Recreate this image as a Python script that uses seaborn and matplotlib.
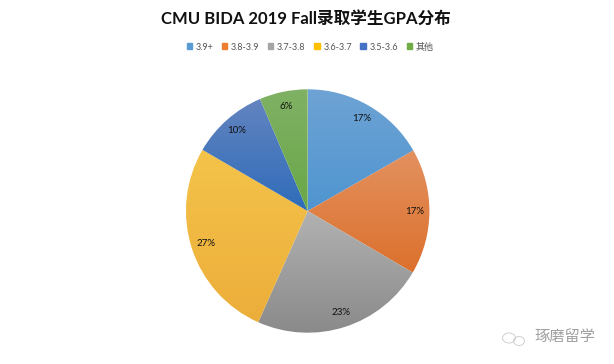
import matplotlib

matplotlib.use("Agg")
import matplotlib.pyplot as plt
import numpy as np
import seaborn as sns
from matplotlib.colors import LinearSegmentedColormap
from matplotlib.patches import Ellipse, Patch

categories = ["3.9+", "3.8-3.9", "3.7-3.8", "3.6-3.7", "3.5-3.6", "其他"]
values = [16.7, 16.7, 23.2, 26.7, 10.2, 6.4]
top_colors = ["#6ea3d4", "#e39160", "#b2b2b2", "#f4c34a", "#6384c0", "#80b164"]
bottom_colors = ["#4f95d0", "#dc702c", "#8a8a8a", "#ecae3a", "#2e6cb9", "#69a748"]
legend_colors = ["#5b9bd5", "#ed7d31", "#a5a5a5", "#ffc000", "#4472c4", "#70ad47"]

sns.set_theme(style="white")
plt.rcParams["font.family"] = ["Lato", "Noto Sans CJK SC"]

fig = plt.figure(figsize=(6.14, 3.64), dpi=100)
ax = fig.add_axes([0, 0, 1, 1])

wedges, _, pct_texts = ax.pie(
    values,
    colors=sns.color_palette(legend_colors),
    startangle=90,
    counterclock=False,
    center=(307.7, 153),
    radius=121.7,
    autopct="%.0f%%",
    pctdistance=0.88,
    textprops={"fontsize": 7, "color": "#111111"},
)

# Excel style vertical gradient inside each slice
gradient = np.linspace(0, 1, 256).reshape(-1, 1)
for wedge, top, bottom in zip(wedges, top_colors, bottom_colors):
    box = wedge.get_path().transformed(wedge.get_patch_transform()).get_extents()
    cmap = LinearSegmentedColormap.from_list("slice", [top, bottom])
    image = ax.imshow(
        gradient,
        cmap=cmap,
        aspect="auto",
        extent=(box.x0, box.x1, box.y0, box.y1),
        origin="upper",
        zorder=1.5,
    )
    image.set_clip_path(wedge)

ax.set_xlim(0, 614)
ax.set_ylim(0, 364)
ax.set_aspect("equal")
ax.axis("off")

fig.text(
    0.4985, 0.948, "CMU BIDA 2019 Fall录取学生GPA分布",
    ha="center", va="center", fontsize=12, fontweight="bold", color="#111111",
)

handles = [Patch(color=c, label=name) for c, name in zip(legend_colors, categories)]
fig.legend(
    handles=handles,
    loc="center",
    bbox_to_anchor=(0.505, 0.871),
    ncol=6,
    frameon=False,
    fontsize=6.5,
    handlelength=0.6,
    handleheight=0.6,
    handletextpad=0.4,
    columnspacing=0.95,
    labelcolor="#555555",
)

# watermark
ax.add_patch(Ellipse((509, 26), 13, 10, fill=False, edgecolor="#d0d0d0", lw=0.7))
ax.add_patch(Ellipse((519, 23), 11, 9, fill=False, edgecolor="#d0d0d0", lw=0.7))
ax.text(565, 27, "琢磨留学", ha="center", va="center", fontsize=11, color="#a0a0a0")

fig.savefig("out.png", dpi=100)
